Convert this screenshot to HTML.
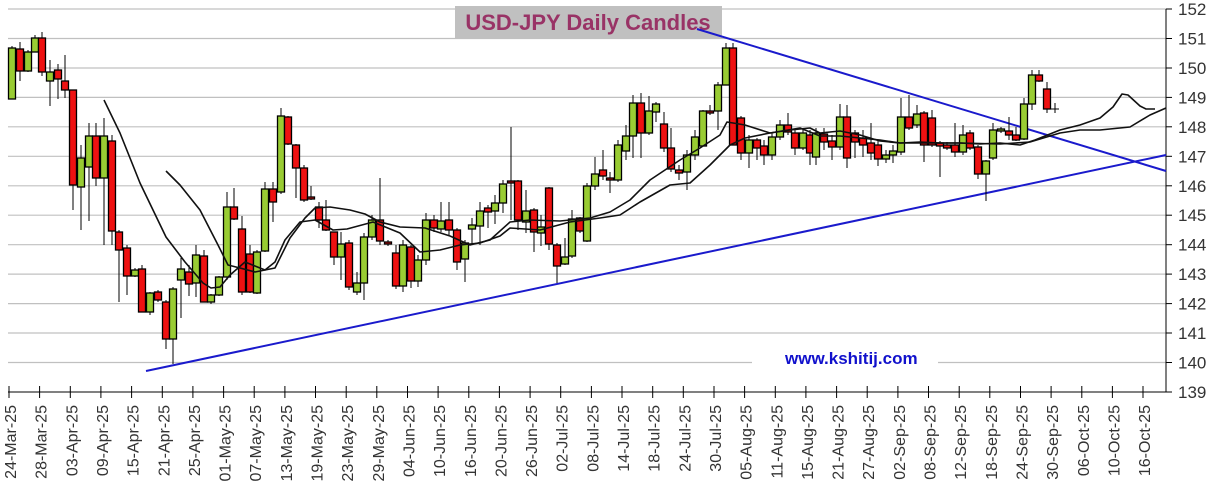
<!DOCTYPE html>
<html><head><meta charset="utf-8"><style>
html,body{margin:0;padding:0;background:#fff;width:1211px;height:486px;overflow:hidden}
svg{display:block}
.g{fill:#99cc33;stroke:#000;stroke-width:1.3}
.r{fill:#ee1111;stroke:#000;stroke-width:1.3}
.w{stroke:#000;stroke-width:1;fill:none}
text{font-family:"Liberation Sans",Arial,sans-serif}
</style></head><body>
<svg width="1211" height="486" viewBox="0 0 1211 486" xmlns="http://www.w3.org/2000/svg">
<g stroke="#c0c0c0" stroke-width="1.2">
<line x1="8" x2="1166" y1="9" y2="9"/><line x1="8" x2="1166" y1="38.5" y2="38.5"/><line x1="8" x2="1166" y1="68" y2="68"/><line x1="8" x2="1166" y1="97.4" y2="97.4"/><line x1="8" x2="1166" y1="126.8" y2="126.8"/><line x1="8" x2="1166" y1="156.3" y2="156.3"/><line x1="8" x2="1166" y1="185.8" y2="185.8"/><line x1="8" x2="1166" y1="215.2" y2="215.2"/><line x1="8" x2="1166" y1="244.7" y2="244.7"/><line x1="8" x2="1166" y1="274.1" y2="274.1"/><line x1="8" x2="1166" y1="303.6" y2="303.6"/><line x1="8" x2="1166" y1="333" y2="333"/><line x1="8" x2="1166" y1="362.5" y2="362.5"/>
</g>
<rect x="455" y="6" width="267" height="32" fill="#c0c0c0"/>
<text x="588" y="30" font-size="22" font-weight="bold" fill="#993366" text-anchor="middle">USD-JPY Daily Candles</text>
<rect x="752" y="350" width="186" height="20" fill="#fff"/>
<text x="785" y="364" font-size="17" font-weight="bold" fill="#1111cc">www.kshitij.com</text>
<g stroke="#000" stroke-width="1">
<line x1="1166" y1="9" x2="1166" y2="392"/><line x1="8" y1="392" x2="1166" y2="392"/>
<line x1="1166" x2="1172" y1="9" y2="9"/><line x1="1166" x2="1172" y1="38.5" y2="38.5"/><line x1="1166" x2="1172" y1="68" y2="68"/><line x1="1166" x2="1172" y1="97.4" y2="97.4"/><line x1="1166" x2="1172" y1="126.8" y2="126.8"/><line x1="1166" x2="1172" y1="156.3" y2="156.3"/><line x1="1166" x2="1172" y1="185.8" y2="185.8"/><line x1="1166" x2="1172" y1="215.2" y2="215.2"/><line x1="1166" x2="1172" y1="244.7" y2="244.7"/><line x1="1166" x2="1172" y1="274.1" y2="274.1"/><line x1="1166" x2="1172" y1="303.6" y2="303.6"/><line x1="1166" x2="1172" y1="333" y2="333"/><line x1="1166" x2="1172" y1="362.5" y2="362.5"/><line x1="1166" x2="1172" y1="392" y2="392"/>
<path d="M9 386V398M39.6 386V398M70.3 386V398M100.9 386V398M131.6 386V398M162.3 386V398M192.9 386V398M223.6 386V398M254.2 386V398M284.9 386V398M315.5 386V398M346.2 386V398M376.8 386V398M407.5 386V398M438.1 386V398M468.8 386V398M499.4 386V398M530.1 386V398M560.7 386V398M591.4 386V398M622 386V398M652.7 386V398M683.3 386V398M714 386V398M744.6 386V398M775.3 386V398M805.9 386V398M836.6 386V398M867.2 386V398M897.9 386V398M928.5 386V398M959.2 386V398M989.8 386V398M1020.5 386V398M1051.1 386V398M1081.8 386V398M1112.4 386V398M1143 386V398"/>
</g>
<g font-size="17" fill="#333">
<text x="1178" y="15">152</text><text x="1178" y="44.5">151</text><text x="1178" y="74">150</text><text x="1178" y="103.4">149</text><text x="1178" y="132.8">148</text><text x="1178" y="162.3">147</text><text x="1178" y="191.8">146</text><text x="1178" y="221.2">145</text><text x="1178" y="250.7">144</text><text x="1178" y="280.1">143</text><text x="1178" y="309.6">142</text><text x="1178" y="339">141</text><text x="1178" y="368.5">140</text><text x="1178" y="398">139</text>
</g>
<g font-size="16" fill="#333" text-anchor="end">
<text transform="translate(16,405) rotate(-90)">24-Mar-25</text>
<text transform="translate(46.6,405) rotate(-90)">28-Mar-25</text>
<text transform="translate(77.3,405) rotate(-90)">03-Apr-25</text>
<text transform="translate(107.9,405) rotate(-90)">09-Apr-25</text>
<text transform="translate(138.6,405) rotate(-90)">15-Apr-25</text>
<text transform="translate(169.3,405) rotate(-90)">21-Apr-25</text>
<text transform="translate(199.9,405) rotate(-90)">25-Apr-25</text>
<text transform="translate(230.6,405) rotate(-90)">01-May-25</text>
<text transform="translate(261.2,405) rotate(-90)">07-May-25</text>
<text transform="translate(291.9,405) rotate(-90)">13-May-25</text>
<text transform="translate(322.5,405) rotate(-90)">19-May-25</text>
<text transform="translate(353.2,405) rotate(-90)">23-May-25</text>
<text transform="translate(383.8,405) rotate(-90)">29-May-25</text>
<text transform="translate(414.5,405) rotate(-90)">04-Jun-25</text>
<text transform="translate(445.1,405) rotate(-90)">10-Jun-25</text>
<text transform="translate(475.8,405) rotate(-90)">16-Jun-25</text>
<text transform="translate(506.4,405) rotate(-90)">20-Jun-25</text>
<text transform="translate(537.1,405) rotate(-90)">26-Jun-25</text>
<text transform="translate(567.7,405) rotate(-90)">02-Jul-25</text>
<text transform="translate(598.4,405) rotate(-90)">08-Jul-25</text>
<text transform="translate(629,405) rotate(-90)">14-Jul-25</text>
<text transform="translate(659.7,405) rotate(-90)">18-Jul-25</text>
<text transform="translate(690.3,405) rotate(-90)">24-Jul-25</text>
<text transform="translate(721,405) rotate(-90)">30-Jul-25</text>
<text transform="translate(751.6,405) rotate(-90)">05-Aug-25</text>
<text transform="translate(782.3,405) rotate(-90)">11-Aug-25</text>
<text transform="translate(812.9,405) rotate(-90)">15-Aug-25</text>
<text transform="translate(843.6,405) rotate(-90)">21-Aug-25</text>
<text transform="translate(874.2,405) rotate(-90)">27-Aug-25</text>
<text transform="translate(904.9,405) rotate(-90)">02-Sep-25</text>
<text transform="translate(935.5,405) rotate(-90)">08-Sep-25</text>
<text transform="translate(966.2,405) rotate(-90)">12-Sep-25</text>
<text transform="translate(996.8,405) rotate(-90)">18-Sep-25</text>
<text transform="translate(1027.5,405) rotate(-90)">24-Sep-25</text>
<text transform="translate(1058.1,405) rotate(-90)">30-Sep-25</text>
<text transform="translate(1088.8,405) rotate(-90)">06-Oct-25</text>
<text transform="translate(1119.4,405) rotate(-90)">10-Oct-25</text>
<text transform="translate(1150,405) rotate(-90)">16-Oct-25</text>
</g>
<g stroke="#1a1acc" stroke-width="2" fill="none">
<line x1="697" y1="29" x2="1166" y2="171"/>
<line x1="146" y1="371" x2="1166" y2="155"/>
</g>
<path class="w" d="M12 46V99M20 42V81M28 50V72M35 35V52M42 32V76M50 60V106M58 64V99M65 55V98M73 90V210M81 145V230M89 123V221M96 123V186M104 118V245M112 135V245M119 230V302M127 245V295M135 268V277M142 265V312M150 292V315M158 290V302M166 300V349M173 287V364M181 258V318M189 265V296M196 245V297M204 250V302M211 294V304M219 276V296M227 192V280M234 188V220M242 216V295M250 245V293M257 250V294M265 182V252M273 182V222M281 108V194M288 116V145M296 144V198M304 165V202M311 186V200M319 202V228M326 200V231M334 232V265M341 232V280M349 240V290M357 272V295M364 233V300M372 215V240M380 178V245M388 240V246M396 245V289M403 240V292M411 245V288M418 255V287M426 213V265M434 215V232M441 202V232M449 202V235M457 228V270M465 240V282M472 218V245M480 202V245M488 205V228M495 195V224M503 180V213M511 127V220M518 180V230M526 190V233M534 208V252M541 215V246M549 187V250M557 243V283M565 238V265M572 210V258M580 217V233M587 183V242M595 157V190M603 150V180M610 172V193M618 140V182M626 125V160M633 95V158M641 93V158M649 96V135M656 102V122M664 112V152M671 128V172M679 165V180M687 150V190M695 130V160M703 110V146M710 105V115M718 82V130M726 43V85M733 43V145M741 116V160M749 135V168M757 138V160M764 140V165M772 133V160M780 120V140M788 113V135M795 130V155M803 128V150M810 130V165M816 128V165M824 128V150M832 135V160M840 104V150M847 105V168M855 130V158M863 130V157M871 123V160M878 140V166M886 150V163M893 145V163M901 98V155M909 95V130M917 105V128M924 111V162M932 110V147M940 141V177M947 142V150M955 123V157M963 125V155M970 130V150M978 145V179M986 160V201M993 123V160M1001 127V133M1009 117V140M1016 127V141M1024 98V140M1032 70V110M1039 70V82M1047 82V113M1055 103V113M1051 109H1059"/>
<g>
<rect class="g" x="8.5" y="48" width="7" height="51"/><rect class="r" x="16.5" y="49" width="7" height="22"/><rect class="g" x="24.5" y="52" width="7" height="19"/><rect class="g" x="31.5" y="38" width="7" height="14"/><rect class="r" x="38.5" y="38" width="7" height="34"/><rect class="g" x="46.5" y="72" width="7" height="9"/><rect class="r" x="54.5" y="70" width="7" height="9"/><rect class="r" x="61.5" y="81" width="7" height="9"/><rect class="r" x="69.5" y="90" width="7" height="95"/><rect class="g" x="77.5" y="158" width="7" height="29"/><rect class="g" x="85.5" y="136" width="7" height="31"/><rect class="r" x="92.5" y="136" width="7" height="42"/><rect class="g" x="100.5" y="136" width="7" height="42"/><rect class="r" x="108.5" y="141" width="7" height="90"/><rect class="r" x="115.5" y="232" width="7" height="18"/><rect class="r" x="123.5" y="248" width="7" height="28"/><rect class="g" x="131.5" y="270" width="7" height="6"/><rect class="r" x="138.5" y="269" width="7" height="43"/><rect class="g" x="146.5" y="293" width="7" height="19"/><rect class="r" x="154.5" y="292" width="7" height="8"/><rect class="r" x="162.5" y="302" width="7" height="37"/><rect class="g" x="169.5" y="289" width="7" height="50"/><rect class="g" x="177.5" y="269" width="7" height="11"/><rect class="r" x="185.5" y="272" width="7" height="12"/><rect class="g" x="192.5" y="255" width="7" height="28"/><rect class="r" x="200.5" y="256" width="7" height="46"/><rect class="g" x="207.5" y="295" width="7" height="7"/><rect class="g" x="215.5" y="277" width="7" height="18"/><rect class="g" x="223.5" y="207" width="7" height="70"/><rect class="r" x="230.5" y="207" width="7" height="12"/><rect class="r" x="238.5" y="229" width="7" height="63"/><rect class="r" x="246.5" y="254" width="7" height="38"/><rect class="g" x="253.5" y="252" width="7" height="41"/><rect class="g" x="261.5" y="189" width="7" height="62"/><rect class="r" x="269.5" y="189" width="7" height="13"/><rect class="g" x="277.5" y="116" width="7" height="76"/><rect class="r" x="284.5" y="117" width="7" height="27"/><rect class="r" x="292.5" y="145" width="7" height="23"/><rect class="r" x="300.5" y="168" width="7" height="32"/><rect class="r" x="307.5" y="197" width="7" height="2"/><rect class="r" x="315.5" y="207" width="7" height="13"/><rect class="r" x="322.5" y="220" width="7" height="10"/><rect class="r" x="330.5" y="232" width="7" height="25"/><rect class="g" x="337.5" y="244" width="7" height="13"/><rect class="r" x="345.5" y="243" width="7" height="44"/><rect class="g" x="353.5" y="283" width="7" height="9"/><rect class="g" x="360.5" y="237" width="7" height="46"/><rect class="g" x="368.5" y="220" width="7" height="17"/><rect class="r" x="376.5" y="220" width="7" height="21"/><rect class="r" x="384.5" y="242" width="7" height="2"/><rect class="r" x="392.5" y="253" width="7" height="33"/><rect class="g" x="399.5" y="245" width="7" height="41"/><rect class="r" x="407.5" y="247" width="7" height="34"/><rect class="g" x="414.5" y="260" width="7" height="21"/><rect class="g" x="422.5" y="220" width="7" height="40"/><rect class="r" x="430.5" y="220" width="7" height="8"/><rect class="g" x="437.5" y="221" width="7" height="8"/><rect class="r" x="445.5" y="220" width="7" height="10"/><rect class="r" x="453.5" y="230" width="7" height="32"/><rect class="g" x="461.5" y="243" width="7" height="16"/><rect class="g" x="468.5" y="225" width="7" height="4"/><rect class="g" x="476.5" y="211" width="7" height="15"/><rect class="r" x="484.5" y="208" width="7" height="4"/><rect class="g" x="491.5" y="203" width="7" height="8"/><rect class="g" x="499.5" y="184" width="7" height="19"/><rect class="r" x="507.5" y="181" width="7" height="2"/><rect class="r" x="514.5" y="181" width="7" height="39"/><rect class="g" x="522.5" y="211" width="7" height="11"/><rect class="r" x="530.5" y="210" width="7" height="22"/><rect class="g" x="537.5" y="227" width="7" height="6"/><rect class="r" x="545.5" y="188" width="7" height="56"/><rect class="r" x="553.5" y="245" width="7" height="21"/><rect class="g" x="561.5" y="257" width="7" height="7"/><rect class="g" x="568.5" y="219" width="7" height="37"/><rect class="r" x="576.5" y="218" width="7" height="13"/><rect class="g" x="583.5" y="186" width="7" height="55"/><rect class="g" x="591.5" y="174" width="7" height="12"/><rect class="r" x="599.5" y="170" width="7" height="6"/><rect class="r" x="606.5" y="178" width="7" height="2"/><rect class="g" x="614.5" y="145" width="7" height="35"/><rect class="g" x="622.5" y="136" width="7" height="15"/><rect class="g" x="629.5" y="103" width="7" height="33"/><rect class="r" x="637.5" y="103" width="7" height="30"/><rect class="g" x="645.5" y="111" width="7" height="22"/><rect class="g" x="652.5" y="104" width="7" height="8"/><rect class="r" x="660.5" y="124" width="7" height="24"/><rect class="r" x="667.5" y="148" width="7" height="21"/><rect class="r" x="675.5" y="170" width="7" height="3"/><rect class="g" x="683.5" y="155" width="7" height="17"/><rect class="g" x="691.5" y="137" width="7" height="18"/><rect class="g" x="699.5" y="111" width="7" height="35"/><rect class="r" x="706.5" y="111" width="7" height="2"/><rect class="g" x="714.5" y="85" width="7" height="26"/><rect class="g" x="722.5" y="48" width="7" height="37"/><rect class="r" x="729.5" y="48" width="7" height="97"/><rect class="r" x="737.5" y="118" width="7" height="35"/><rect class="g" x="745.5" y="140" width="7" height="13"/><rect class="r" x="753.5" y="140" width="7" height="8"/><rect class="r" x="760.5" y="146" width="7" height="9"/><rect class="g" x="768.5" y="137" width="7" height="18"/><rect class="g" x="776.5" y="125" width="7" height="12"/><rect class="r" x="784.5" y="125" width="7" height="7"/><rect class="r" x="791.5" y="133" width="7" height="15"/><rect class="g" x="799.5" y="133" width="7" height="15"/><rect class="r" x="806.5" y="135" width="7" height="18"/><rect class="g" x="812.5" y="133" width="7" height="24"/><rect class="r" x="820.5" y="134" width="7" height="8"/><rect class="r" x="828.5" y="141" width="7" height="6"/><rect class="g" x="836.5" y="117" width="7" height="30"/><rect class="r" x="843.5" y="117" width="7" height="41"/><rect class="r" x="851.5" y="133" width="7" height="9"/><rect class="r" x="859.5" y="138" width="7" height="7"/><rect class="r" x="867.5" y="143" width="7" height="10"/><rect class="r" x="874.5" y="145" width="7" height="14"/><rect class="g" x="882.5" y="155" width="7" height="4"/><rect class="g" x="889.5" y="151" width="7" height="4"/><rect class="g" x="897.5" y="117" width="7" height="35"/><rect class="r" x="905.5" y="117" width="7" height="11"/><rect class="g" x="913.5" y="114" width="7" height="11"/><rect class="r" x="920.5" y="113" width="7" height="32"/><rect class="r" x="928.5" y="118" width="7" height="27"/><rect class="r" x="936.5" y="143" width="7" height="3"/><rect class="r" x="943.5" y="145" width="7" height="3"/><rect class="r" x="951.5" y="145" width="7" height="7"/><rect class="g" x="959.5" y="135" width="7" height="17"/><rect class="r" x="966.5" y="133" width="7" height="15"/><rect class="r" x="974.5" y="147" width="7" height="27"/><rect class="g" x="982.5" y="161" width="7" height="13"/><rect class="g" x="989.5" y="130" width="7" height="28"/><rect class="g" x="997.5" y="129" width="7" height="2"/><rect class="r" x="1005.5" y="131" width="7" height="4"/><rect class="r" x="1012.5" y="135" width="7" height="5"/><rect class="g" x="1020.5" y="104" width="7" height="35"/><rect class="g" x="1028.5" y="75" width="7" height="29"/><rect class="r" x="1035.5" y="75" width="7" height="6"/><rect class="r" x="1043.5" y="89" width="7" height="20"/>
</g>
<g stroke="#111" stroke-width="1.6" fill="none" stroke-linejoin="round">
<polyline points="104,100 120,133 140,183 166,237 185,262 203,283 211,288 220,287 230,275 245,262 265,270 275,268 290,238 305,218 315,208 330,207 350,210 365,214 380,222 400,227 425,228 450,236 470,245 490,240 510,222 530,220 560,221 590,218 610,212 630,200 650,180 680,160 700,148 720,135 727,122 745,125 770,133 790,130 810,128 820,133 840,131 860,135 880,141 900,143 920,142 940,143 960,143 980,144 1000,143 1020,145 1035,140 1060,130 1080,125 1100,118 1113,107 1122,94 1128,95 1140,106 1146,109 1155,109"/>
<polyline points="166,171 180,185 200,210 218,245 228,265 240,268 255,272 265,270 275,262 285,240 300,222 315,220 333,230 347,229 373,222 400,233 420,252 440,250 460,245 480,243 500,236 510,228 540,230 570,222 600,218 620,215 640,202 670,185 690,183 710,165 730,145 745,138 770,133 800,128 820,136 840,136 860,138 880,140 900,143 920,143 960,143 1000,144 1030,142 1060,133 1080,130 1100,130 1130,127 1150,115 1166,108"/>
</g>
</svg>
</body></html>
